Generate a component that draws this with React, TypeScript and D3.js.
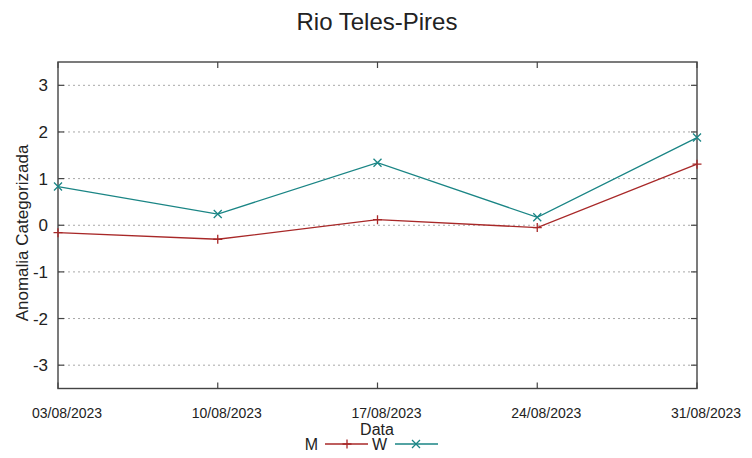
import React from "react";
import * as d3 from "d3";

const dates = ["03/08/2023", "10/08/2023", "17/08/2023", "24/08/2023", "31/08/2023"];
const seriesM = [-0.16, -0.3, 0.12, -0.05, 1.31];
const seriesW = [0.83, 0.24, 1.34, 0.17, 1.88];
const yTicks = [-3, -2, -1, 0, 1, 2, 3];

const W = 752, H = 458;
const left = 58, right = 697, top = 62, bottom = 388.5;
const colM = "#a82828";
const colW = "#1a8585";

export default function App() {
  const x = d3.scalePoint<string>().domain(dates).range([left, right]);
  const y = d3.scaleLinear().domain([-3.5, 3.5]).range([bottom, top]);
  const line = d3.line<number>().x((_, i) => x(dates[i]) as number).y((d) => y(d));
  const font = "'Liberation Sans', Arial, sans-serif";

  const plus = (cx: number, cy: number, c: string, k: string) => (
    <path key={k} d={`M${cx - 4.5},${cy}H${cx + 4.5}M${cx},${cy - 4.5}V${cy + 4.5}`} stroke={c} strokeWidth={1.3} fill="none" />
  );
  const cross = (cx: number, cy: number, c: string, k: string) => (
    <path key={k} d={`M${cx - 4},${cy - 4}L${cx + 4},${cy + 4}M${cx - 4},${cy + 4}L${cx + 4},${cy - 4}`} stroke={c} strokeWidth={1.3} fill="none" />
  );

  return (
    <svg width={W} height={H} style={{ position: "absolute", left: 0, top: 0, background: "#fff" }} fontFamily={font}>
      <rect width={W} height={H} fill="#fff" />
      <text x={377} y={30} textAnchor="middle" fontSize={24} fill="#222">Rio Teles-Pires</text>
      {yTicks.map((t) => (
        <g key={t}>
          <line x1={left} x2={right} y1={y(t)} y2={y(t)} stroke="#a8a8a8" strokeWidth={1} strokeDasharray="2,3" />
          <line x1={left} x2={left + 6} y1={y(t)} y2={y(t)} stroke="#444" strokeWidth={1.2} />
          <line x1={right - 6} x2={right} y1={y(t)} y2={y(t)} stroke="#444" strokeWidth={1.2} />
          <text x={48} y={y(t) + 6} textAnchor="end" fontSize={17} fill="#222">{t < 0 ? "-" + Math.abs(t) : t}</text>
        </g>
      ))}
      {dates.map((d) => (
        <g key={d}>
          <line x1={x(d)} x2={x(d)} y1={bottom} y2={bottom - 6} stroke="#444" strokeWidth={1.2} />
          <line x1={x(d)} x2={x(d)} y1={top} y2={top + 6} stroke="#444" strokeWidth={1.2} />
          <text x={(x(d) as number) + 9} y={418} textAnchor="middle" fontSize={14} fill="#222">{d}</text>
        </g>
      ))}
      <rect x={left} y={top} width={right - left} height={bottom - top} fill="none" stroke="#444" strokeWidth={1.4} />
      <path d={line(seriesM) || ""} fill="none" stroke={colM} strokeWidth={1.3} />
      <path d={line(seriesW) || ""} fill="none" stroke={colW} strokeWidth={1.3} />
      {seriesM.map((v, i) => plus(x(dates[i]) as number, y(v), colM, "m" + i))}
      {seriesW.map((v, i) => cross(x(dates[i]) as number, y(v), colW, "w" + i))}
      <text transform={`translate(28,${233}) rotate(-90)`} textAnchor="middle" fontSize={17} fill="#222">Anomalia Categorizada</text>
      <text x={377} y={435} textAnchor="middle" fontSize={16} fill="#222">Data</text>
      <text x={318} y={450} textAnchor="end" fontSize={16} fill="#222">M</text>
      <line x1={325} x2={368} y1={444} y2={444} stroke={colM} strokeWidth={1.3} />
      {plus(347, 444, colM, "lm")}
      <text x={387} y={450} textAnchor="end" fontSize={16} fill="#222">W</text>
      <line x1={395} x2={438} y1={444} y2={444} stroke={colW} strokeWidth={1.3} />
      {cross(416, 444, colW, "lw")}
    </svg>
  );
}
